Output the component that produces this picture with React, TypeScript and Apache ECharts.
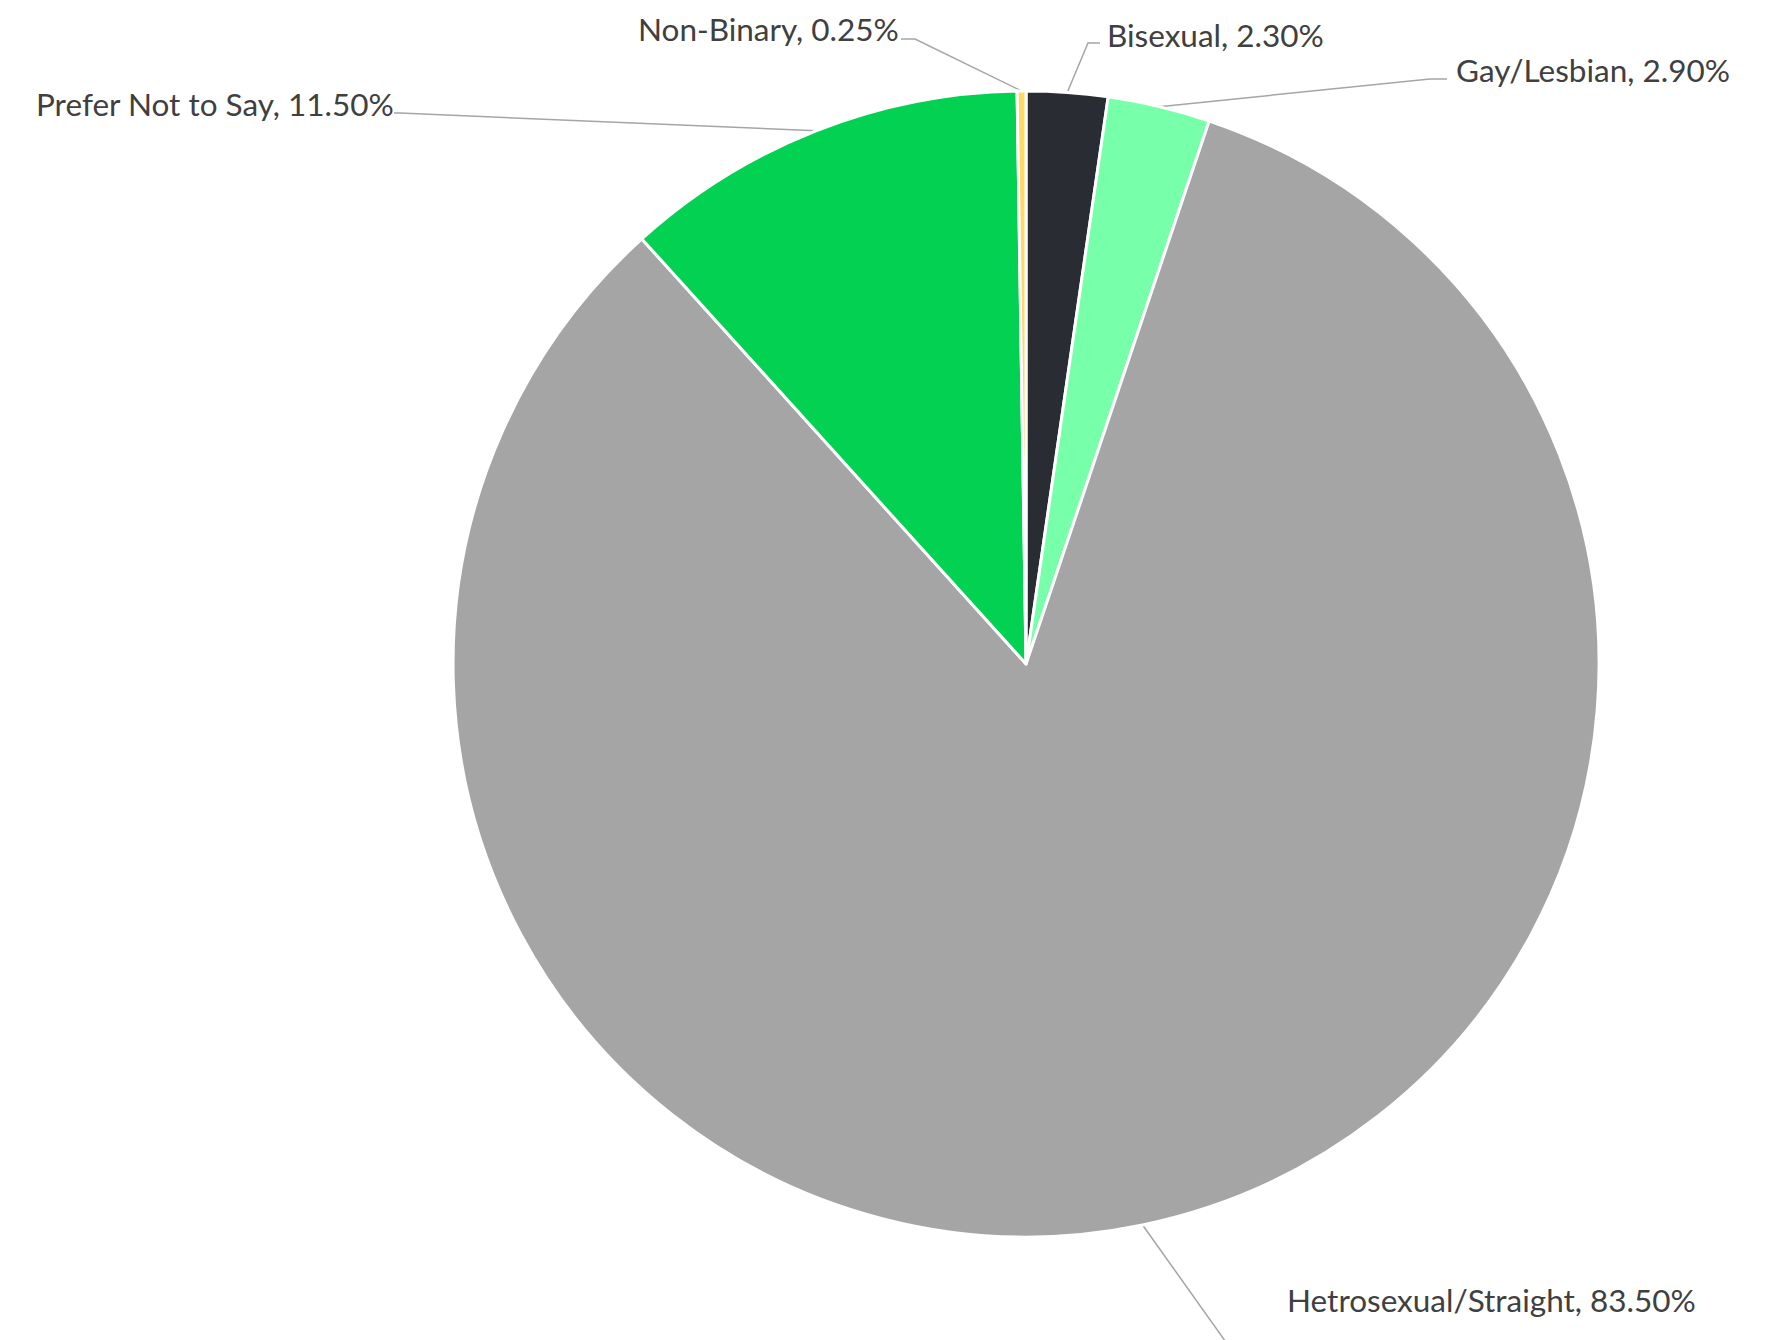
import React, { useEffect, useRef } from "react";
import * as echarts from "echarts";

// Data (clockwise from 12 o'clock)
const categories = [
  "Bisexual",
  "Gay/Lesbian",
  "Hetrosexual/Straight",
  "Prefer Not to Say",
  "Non-Binary",
];
const percentages = [2.3, 2.9, 83.5, 11.5, 0.25];
const sliceColors = ["#292d33", "#78ffaa", "#a5a5a5", "#02d152", "#ffd966"];

// Label placement (layout, in px): left x, centre y, elbow point, end point
const labelSpots: Record<string, { x: number; y: number; elbow: [number, number]; end: [number, number] }> = {
  "Bisexual": { x: 1107, y: 35, elbow: [1088, 43], end: [1100, 43] },
  "Gay/Lesbian": { x: 1456, y: 70, elbow: [1430, 79], end: [1447, 79] },
  "Hetrosexual/Straight": { x: 1287, y: 1300, elbow: [1228, 1345], end: [1228, 1345] },
  "Prefer Not to Say": { x: 36, y: 104, elbow: [400, 113], end: [394, 113] },
  "Non-Binary": { x: 638, y: 29, elbow: [915, 39], end: [901, 39] },
};

export default function App() {
  const ref = useRef<HTMLDivElement>(null);
  useEffect(() => {
    if (!ref.current) return;
    const chart = echarts.init(ref.current, undefined, { renderer: "svg" });
    const data = categories.map((name, i) => ({
      name,
      value: percentages[i],
      itemStyle: { color: sliceColors[i] },
    }));
    chart.setOption({
      animation: false,
      backgroundColor: "#ffffff",
      series: [
        {
          type: "pie",
          center: ["58.1%", "49.55%"],
          radius: 573,
          startAngle: 90,
          clockwise: true,
          avoidLabelOverlap: false,
          data,
          itemStyle: { borderColor: "#ffffff", borderWidth: 3 },
          label: {
            show: true,
            position: "outside",
            fontFamily: "Lato",
            fontSize: 31.5,
            color: "#404040",
            formatter: (p: any) => `${p.name}, ${Number(p.value).toFixed(2)}%`,
          },
          labelLine: {
            show: true,
            length: 20,
            length2: 20,
            lineStyle: { color: "#a5a5a5", width: 1.5 },
          },
          labelLayout: (params: any) => {
            const name = categories[params.dataIndex];
            const s = labelSpots[name];
            const start = params.labelLinePoints ? params.labelLinePoints[0] : s.elbow;
            return {
              x: s.x,
              y: s.y,
              align: "left",
              verticalAlign: "middle",
              labelLinePoints: [start, s.elbow, s.end],
            };
          },
        },
      ],
    });
    return () => chart.dispose();
  }, []);
  return (
    <div
      ref={ref}
      style={{ position: "fixed", left: 0, top: 0, width: 1766, height: 1340 }}
    />
  );
}
